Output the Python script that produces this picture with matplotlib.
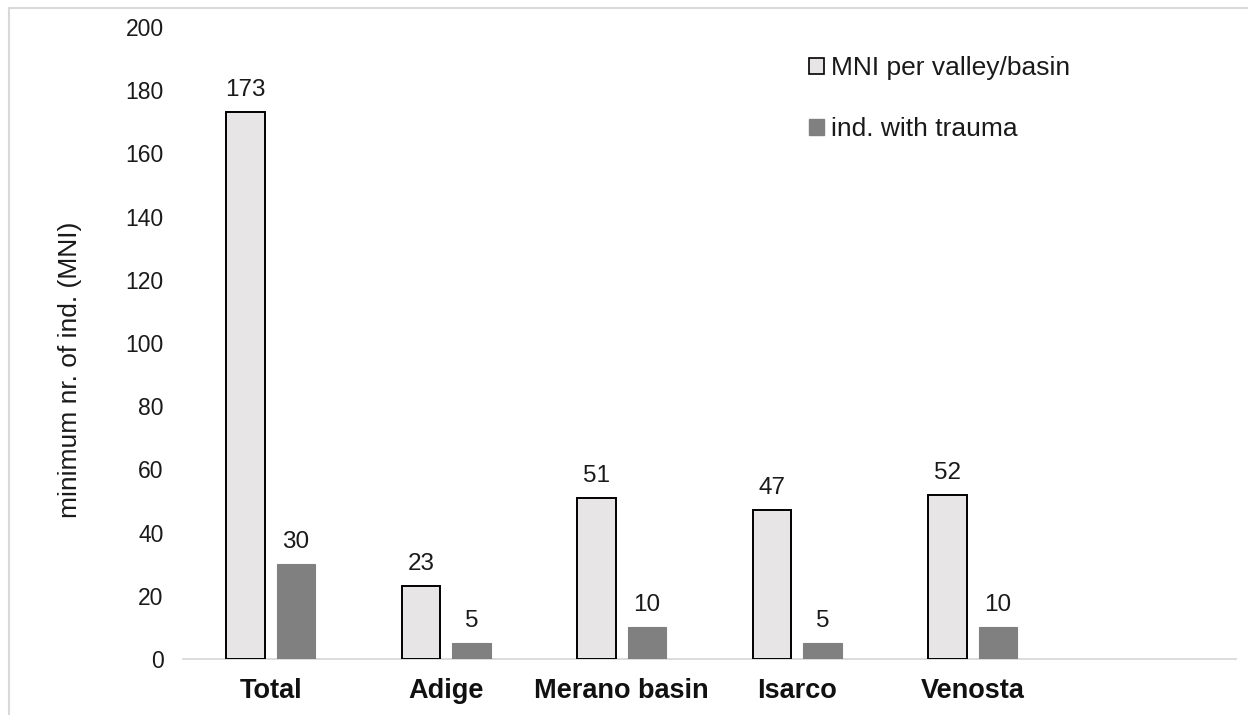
import matplotlib
matplotlib.use("Agg")
import matplotlib.pyplot as plt
import numpy as np
from matplotlib.patches import Patch
from matplotlib.lines import Line2D

plt.rcParams['font.family'] = ['Liberation Sans', 'DejaVu Sans']

categories = ["Total", "Adige", "Merano basin", "Isarco", "Venosta", ""]
mni = [173, 23, 51, 47, 52, None]
trauma = [30, 5, 10, 5, 10, None]
series_labels = ["MNI per valley/basin", "ind. with trauma"]
y_ticks = [0, 20, 40, 60, 80, 100, 120, 140, 160, 180, 200]

light = "#E7E5E5"
dark = "#808080"
axis_grey = "#D9D9D9"
text_col = "#1a1a1a"

W, H = 1248, 715
fig = plt.figure(figsize=(W / 100, H / 100), dpi=100)
ax = fig.add_axes([183 / W, 1 - 659 / H, (1236 - 183) / W, (659 - 27) / H])

x = np.arange(len(categories))
idx = [i for i, v in enumerate(mni) if v is not None]
mni_v = [mni[i] for i in idx]
tr_v = [trauma[i] for i in idx]
xi = x[idx]

bw = 0.22
off = 0.143
b1 = ax.bar(xi - off, mni_v, bw, color=light, edgecolor="black", linewidth=1.4, zorder=3)
b2 = ax.bar(xi + off, tr_v, bw, color=dark, edgecolor=dark, linewidth=0.8, zorder=3)
ax.bar_label(b1, labels=[str(v) for v in mni_v], padding=8, fontsize=17.5, color=text_col)
ax.bar_label(b2, labels=[str(v) for v in tr_v], padding=8, fontsize=17.5, color=text_col)

ax.set_xlim(-0.5, len(categories) - 0.5)
ax.set_ylim(0, 200)
ax.set_yticks(y_ticks)
ax.set_yticklabels([str(t) for t in y_ticks], fontsize=16.5, color=text_col)
ax.set_xticks(x)
ax.set_xticklabels(categories, fontsize=19.5, fontweight="bold", color="#111111")
ax.tick_params(axis="y", length=0, pad=14)
ax.tick_params(axis="x", length=0, pad=14)

for s in ["top", "right", "left"]:
    ax.spines[s].set_visible(False)
ax.spines["bottom"].set_color(axis_grey)
ax.spines["bottom"].set_linewidth(1.3)

fig.text(70 / W, 1 - 370 / H, "minimum nr. of ind. (MNI)", rotation=90,
         ha="center", va="center", fontsize=19, color=text_col)

handles = [Patch(facecolor=light, edgecolor="black", linewidth=1.2),
           Patch(facecolor=dark, edgecolor=dark)]
leg = fig.legend(handles, series_labels, loc="upper left",
                 bbox_to_anchor=(809 / W, 1 - 56 / H), frameon=False,
                 fontsize=19, handlelength=0.57, handleheight=0.57,
                 handletextpad=0.25, labelspacing=1.42, borderaxespad=0,
                 borderpad=0)
for t in leg.get_texts():
    t.set_color(text_col)

# thin frame around the chart area (left and top edges)
fig.add_artist(Line2D([8.5 / W, 8.5 / W], [0, 1 - 7.5 / H], transform=fig.transFigure,
                      color=axis_grey, linewidth=1.5))
fig.add_artist(Line2D([8.5 / W, 1], [1 - 7.5 / H, 1 - 7.5 / H], transform=fig.transFigure,
                      color=axis_grey, linewidth=1.5))

fig.savefig("out.png", dpi=100, facecolor="white")
